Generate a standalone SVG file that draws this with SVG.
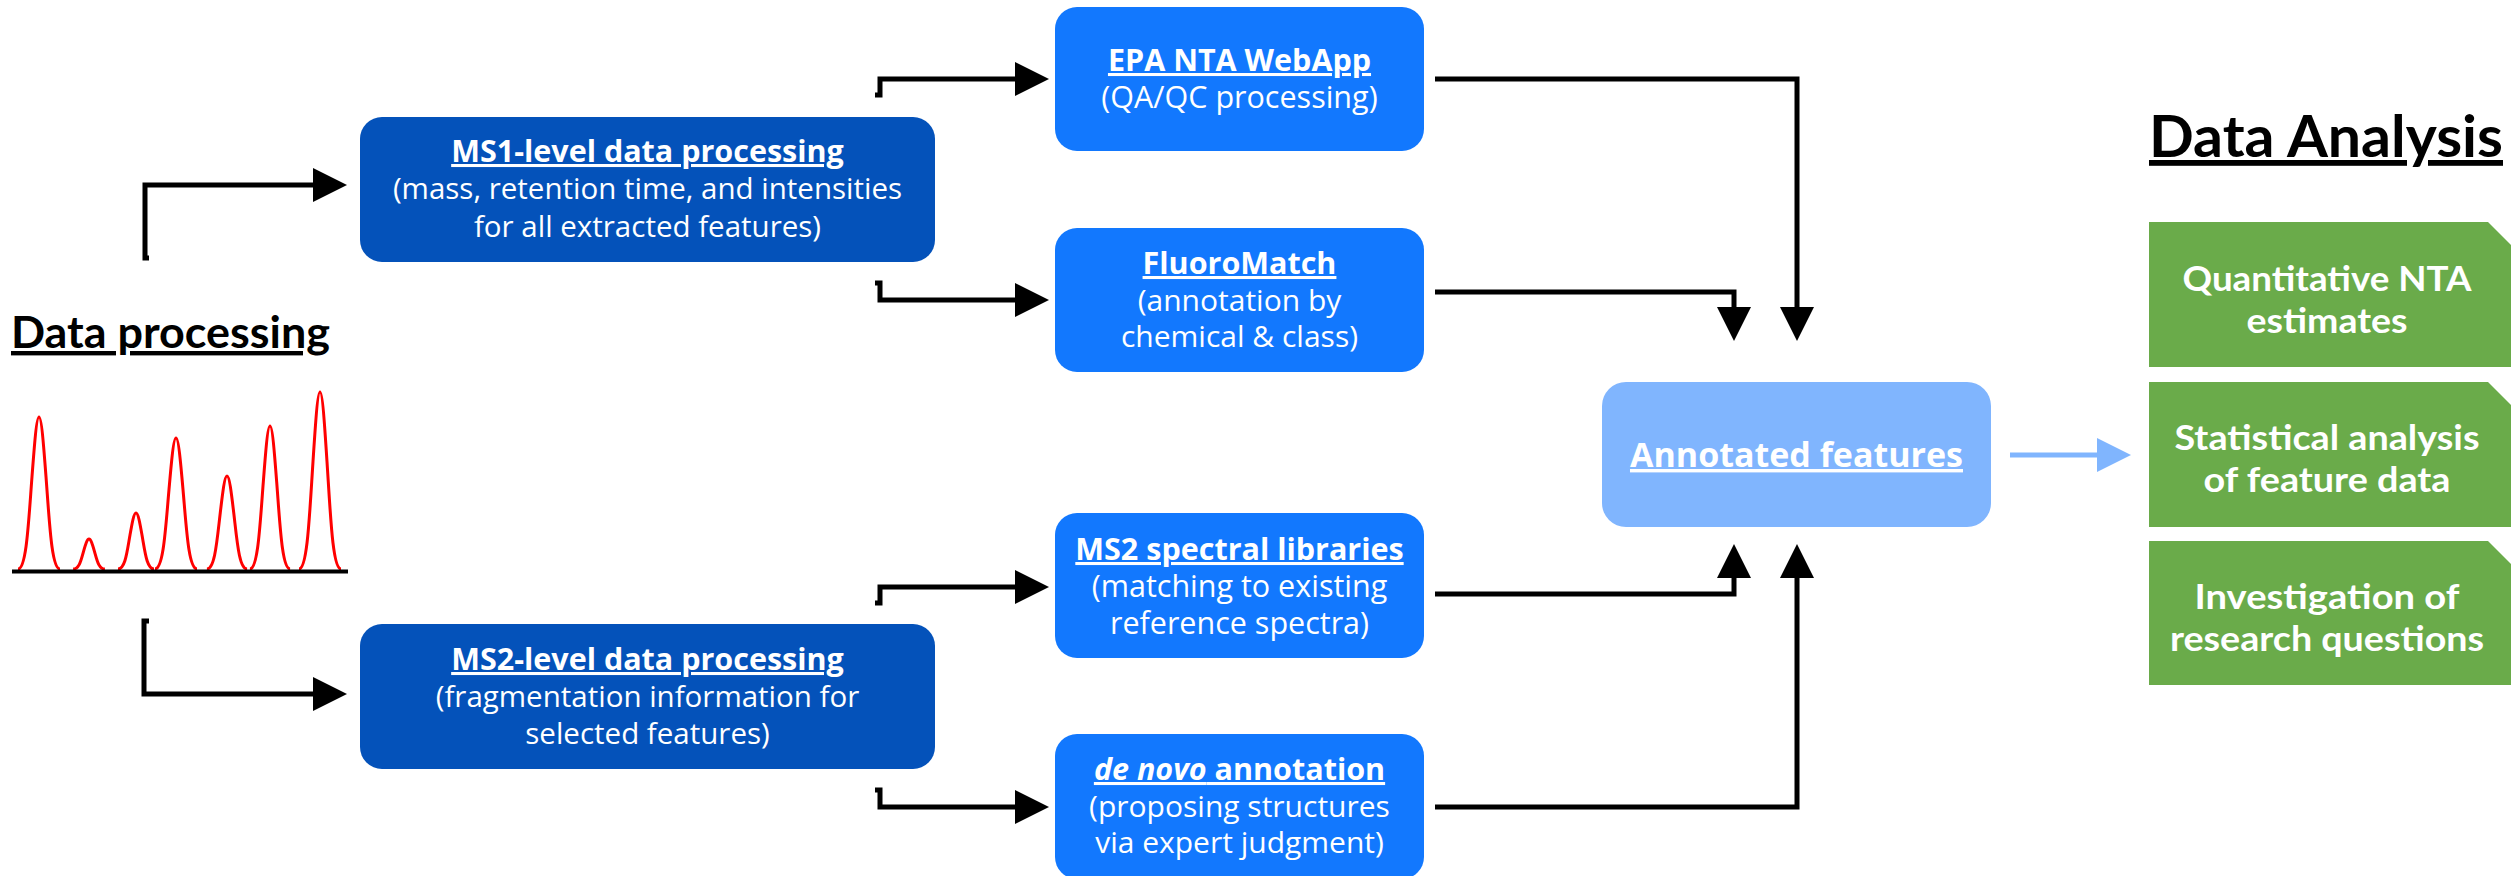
<svg xmlns="http://www.w3.org/2000/svg" width="2511" height="876" viewBox="0 0 2511 876">
  <style>
    .conn { fill: none; stroke: #000; stroke-width: 5; stroke-linejoin: miter; }
    .conn-lt { fill: none; stroke: #80B5FE; stroke-width: 5; }
    .head { font-family: Lato, "Liberation Sans", sans-serif; font-weight: 700; fill: #000; text-decoration: underline; }
    .ttl { font-family: "Open Sans", "Liberation Sans", sans-serif; font-weight: 700; fill: #fff; text-anchor: middle; text-decoration: underline; }
    .sub { font-family: "Open Sans", "Liberation Sans", sans-serif; font-weight: 400; fill: #fff; text-anchor: middle; }
    .grn { font-family: Lato, "Liberation Sans", sans-serif; font-weight: 700; fill: #fff; text-anchor: middle; font-size: 35px; }
    .dark { fill: #0452BA; }
    .mid { fill: #1278FE; }
    .light { fill: #80B5FE; }
    .green { fill: #6AAB4A; }
  </style>
  <defs>
    <marker id="arrow" markerUnits="userSpaceOnUse" markerWidth="36" markerHeight="36" refX="0" refY="17" orient="auto" overflow="visible">
      <path d="M0,0 L34,17 L0,34 Z" fill="#000"/>
    </marker>
    <marker id="arrow-lt" markerUnits="userSpaceOnUse" markerWidth="36" markerHeight="36" refX="0" refY="17" orient="auto" overflow="visible">
      <path d="M0,0 L34,17 L0,34 Z" fill="#80B5FE"/>
    </marker>
  </defs>

  <!-- section headings -->
  <g id="heading-processing">
    <text class="head" x="11" y="348" font-size="44" textLength="319" lengthAdjust="spacingAndGlyphs">Data processing</text>
  </g>
  <g id="heading-analysis">
    <text class="head" x="2149" y="157" font-size="58" textLength="354" lengthAdjust="spacingAndGlyphs">Data Analysis</text>
  </g>

  <!-- chromatogram -->
  <g id="chromatogram">
    <path fill="none" stroke="#FF0000" stroke-width="3" d="
      M18,569 C26.4,569 28.5,522.9 32,476.7 C34.45,444.4 36.55,417 39,417 C41.45,417 43.55,444.4 46,476.7 C49.5,522.9 51.6,569 60,569
      M73.1,569 C79.5,569 81.05,559.9 83.7,550.8 C85.55,544.4 87.14,539 89,539 C90.86,539 92.45,544.4 94.3,550.8 C96.95,559.9 98.5,569 104.9,569
      M118,569 C125.2,569 127,552 130,535 C132.1,523.1 133.9,513 136,513 C138.1,513 139.9,523.1 142,535 C145,552 146.8,569 154,569
      M155,569 C163.4,569 165.5,529.2 169,489.5 C171.45,461.6 173.55,438 176,438 C178.45,438 180.55,461.6 183,489.5 C186.5,529.2 188.6,569 197,569
      M206.9,569 C214.94,569 216.95,540.8 220.3,512.5 C222.64,492.7 224.65,476 227,476 C229.35,476 231.36,492.7 233.7,512.5 C237.05,540.8 239.06,569 247.1,569
      M249.9,569 C257.94,569 259.95,525.6 263.3,482.2 C265.64,451.7 267.65,426 270,426 C272.35,426 274.36,451.7 276.7,482.2 C280.05,525.6 282.06,569 290.1,569
      M299,569 C307.4,569 309.5,515.3 313,461.6 C315.45,423.9 317.55,392 320,392 C322.45,392 324.55,423.9 327,461.6 C330.5,515.3 332.6,569 341,569"/>
    <line x1="12" y1="571.5" x2="348" y2="571.5" stroke="#000" stroke-width="4"/>
  </g>

  <!-- connectors -->
  <g id="connectors">
    <path class="conn" d="M149,258 H145 V185 H313" marker-end="url(#arrow)"/>
    <path class="conn" d="M149,621 H144 V694 H313" marker-end="url(#arrow)"/>
    <path class="conn" d="M875,95 H880 V79 H1015" marker-end="url(#arrow)"/>
    <path class="conn" d="M875,283 H880 V300 H1015" marker-end="url(#arrow)"/>
    <path class="conn" d="M875,603 H880 V587 H1015" marker-end="url(#arrow)"/>
    <path class="conn" d="M875,790 H880 V807 H1015" marker-end="url(#arrow)"/>
    <path class="conn" d="M1435,79 H1797 V307" marker-end="url(#arrow)"/>
    <path class="conn" d="M1435,292 H1734 V307" marker-end="url(#arrow)"/>
    <path class="conn" d="M1435,594 H1734 V578" marker-end="url(#arrow)"/>
    <path class="conn" d="M1435,807 H1797 V578" marker-end="url(#arrow)"/>
    <path class="conn-lt" d="M2010,455 H2097" marker-end="url(#arrow-lt)"/>
  </g>

  <!-- MS1 processing -->
  <g id="ms1">
    <rect class="dark" x="360" y="117" width="575" height="145" rx="22"/>
    <text class="ttl" x="647.5" y="162" font-size="30.5">MS1-level data processing</text>
    <text class="sub" x="647.5" y="199" font-size="29.5">(mass, retention time, and intensities</text>
    <text class="sub" x="647.5" y="237" font-size="29.5">for all extracted features)</text>
  </g>

  <!-- MS2 processing -->
  <g id="ms2">
    <rect class="dark" x="360" y="624" width="575" height="145" rx="22"/>
    <text class="ttl" x="647.5" y="670" font-size="30.5">MS2-level data processing</text>
    <text class="sub" x="647.5" y="707" font-size="29.5">(fragmentation information for</text>
    <text class="sub" x="647.5" y="744" font-size="29.5">selected features)</text>
  </g>

  <!-- EPA NTA WebApp -->
  <g id="epa">
    <rect class="mid" x="1055" y="7" width="369" height="144" rx="22"/>
    <text class="ttl" x="1239.5" y="71" font-size="30.5">EPA NTA WebApp</text>
    <text class="sub" x="1239.5" y="108" font-size="30.5">(QA/QC processing)</text>
  </g>

  <!-- FluoroMatch -->
  <g id="fluoromatch">
    <rect class="mid" x="1055" y="228" width="369" height="144" rx="22"/>
    <text class="ttl" x="1239.5" y="274" font-size="30.5">FluoroMatch</text>
    <text class="sub" x="1239.5" y="311" font-size="30">(annotation by</text>
    <text class="sub" x="1239.5" y="347" font-size="30">chemical &amp; class)</text>
  </g>

  <!-- MS2 spectral libraries -->
  <g id="spectral">
    <rect class="mid" x="1055" y="513" width="369" height="145" rx="22"/>
    <text class="ttl" x="1239.5" y="560" font-size="30.5">MS2 spectral libraries</text>
    <text class="sub" x="1239.5" y="597" font-size="30.5">(matching to existing</text>
    <text class="sub" x="1239.5" y="634" font-size="30.5">reference spectra)</text>
  </g>

  <!-- de novo annotation -->
  <g id="denovo">
    <rect class="mid" x="1055" y="734" width="369" height="145" rx="22"/>
    <text class="ttl" x="1239.5" y="780" font-size="30.5"><tspan font-style="italic">de novo</tspan> annotation</text>
    <text class="sub" x="1239.5" y="817" font-size="30">(proposing structures</text>
    <text class="sub" x="1239.5" y="853" font-size="30">via expert judgment)</text>
  </g>

  <!-- annotated features -->
  <g id="annotated">
    <rect class="light" x="1602" y="382" width="389" height="145" rx="24"/>
    <text class="ttl" x="1796.5" y="467" font-size="34">Annotated features</text>
  </g>

  <!-- analysis outcomes -->
  <g id="quantitative">
    <path class="green" d="M2149,222 H2488 L2522,256 V367 H2149 Z"/>
    <text class="grn" x="2327" y="291" textLength="289" lengthAdjust="spacingAndGlyphs">Quantitative NTA</text>
    <text class="grn" x="2327" y="333" textLength="161" lengthAdjust="spacingAndGlyphs">estimates</text>
  </g>
  <g id="statistical">
    <path class="green" d="M2149,382 H2488 L2522,416 V527 H2149 Z"/>
    <text class="grn" x="2327" y="450" textLength="305" lengthAdjust="spacingAndGlyphs">Statistical analysis</text>
    <text class="grn" x="2327" y="492" textLength="247" lengthAdjust="spacingAndGlyphs">of feature data</text>
  </g>
  <g id="investigation">
    <path class="green" d="M2149,541 H2488 L2522,575 V685 H2149 Z"/>
    <text class="grn" x="2327" y="609" textLength="265" lengthAdjust="spacingAndGlyphs">Investigation of</text>
    <text class="grn" x="2327" y="651" textLength="314" lengthAdjust="spacingAndGlyphs">research questions</text>
  </g>
</svg>
